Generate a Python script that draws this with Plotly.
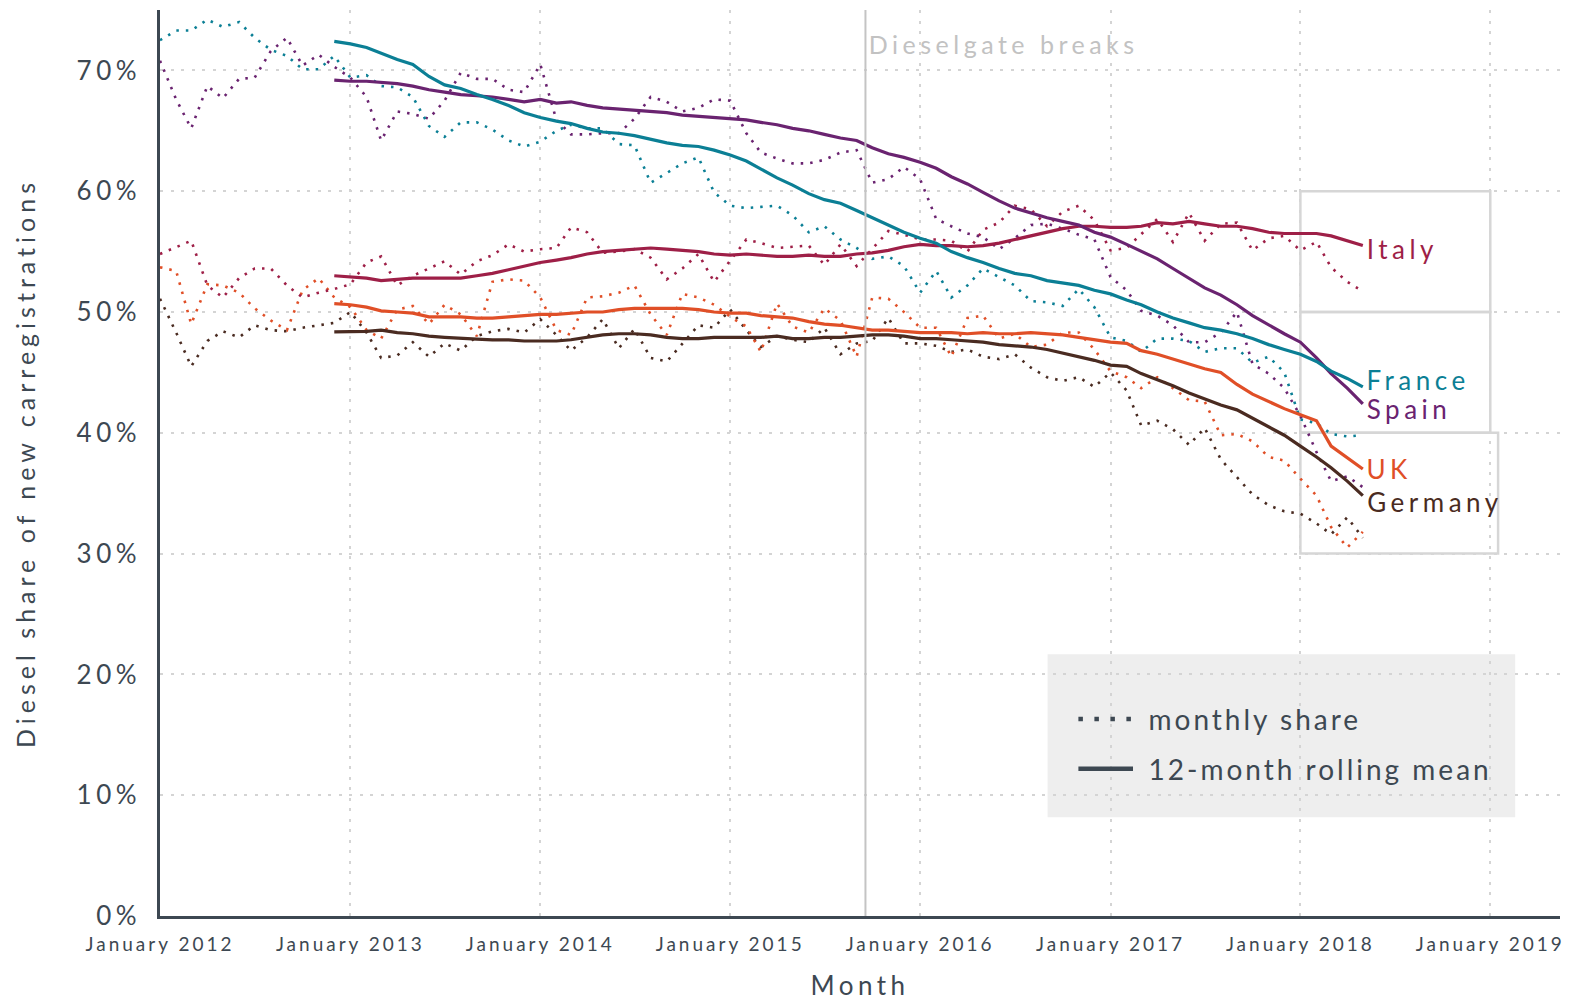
import pandas as pd
import plotly.graph_objects as go

# ---------------- data (percent) ----------------
months = pd.date_range("2012-01-01", periods=77, freq="MS")   # Jan 2012 .. May 2018
roll_months = months[11:]                                      # Dec 2012 .. May 2018

france_monthly = [72.5, 73.3, 73.3, 74.2, 73.6, 74.0, 72.7, 71.7, 71.2, 70.1, 70.1, 71.2, 69.4, 69.6, 68.7, 68.6,
                  67.8, 65.4, 64.5, 65.7, 65.7, 65.1, 64.2, 63.7, 64.1,
                  65.0, 65.5, 65.2, 65.2, 63.9, 63.8, 60.7, 61.5, 62.3, 62.8, 59.9, 58.8, 58.6, 58.7, 58.8, 58.0,
                  56.6, 57.1, 56.0, 55.3, 54.4, 54.6, 53.8, 51.6,
                  53.4, 51.2, 52.2, 53.6, 52.9, 52.2, 50.9, 50.8, 50.5, 51.9, 50.4, 47.9, 47.6, 46.7, 47.8, 47.8,
                  47.6, 46.7, 47.0, 47.0, 45.8, 46.3, 45.0, 41.1, 40.8, 39.9, 39.7, 39.8]
spain_monthly = [70.8, 67.6, 65.2, 68.7, 67.7, 69.3, 69.4, 71.6, 72.7, 70.4, 71.3, 70.3, 69.4, 67.8, 64.2, 66.6,
                 66.4, 66.0, 67.5, 69.8, 69.3, 69.3, 68.4, 68.2, 70.5,
                 65.9, 64.7, 64.7, 64.8, 64.8, 66.0, 67.8, 67.4, 66.6, 66.9, 67.6, 67.5, 64.8, 63.2, 62.7, 62.3,
                 62.3, 62.6, 63.2, 63.4, 60.7, 61.0, 62.0, 61.0,
                 57.7, 57.1, 56.5, 56.2, 55.2, 56.1, 57.2, 57.3, 56.9, 56.4, 56.0, 52.9, 51.8, 50.1, 49.7, 48.9,
                 47.5, 47.5, 48.3, 50.0, 45.7, 44.9, 43.7, 41.4, 38.4, 36.0, 36.4, 35.5]
italy_monthly = [54.8, 55.4, 55.9, 52.2, 51.2, 52.8, 53.6, 53.6, 52.2, 51.2, 51.6, 51.9, 52.3, 54.1, 54.6, 52.2,
                 53.0, 53.6, 54.2, 53.1, 54.2, 54.7, 55.6, 55.0, 55.2,
                 55.3, 57.0, 56.6, 54.9, 55.0, 55.2, 54.5, 52.7, 53.6, 54.8, 52.5, 54.3, 56.0, 55.7, 55.3, 55.4,
                 55.5, 53.9, 55.6, 53.8, 55.2, 56.7, 56.4, 56.0,
                 56.0, 55.9, 55.0, 56.8, 57.4, 58.8, 58.5, 57.1, 58.3, 58.8, 57.6, 55.1, 55.3, 56.4, 57.7, 55.8,
                 58.2, 55.9, 57.3, 57.4, 55.1, 56.1, 56.3, 55.1, 55.8, 53.7, 52.5, 51.7]
uk_monthly = [53.7, 53.4, 49.0, 52.3, 52.2, 51.6, 50.3, 49.3, 48.5, 51.8, 52.8, 51.2, 50.4, 48.5, 47.8, 50.2,
              50.5, 49.0, 50.6, 49.8, 48.0, 52.5, 52.7, 52.6, 51.2,
              48.5, 48.1, 51.2, 51.3, 51.6, 52.2, 49.8, 48.1, 51.5, 51.2, 50.6, 49.6, 48.8, 46.7, 50.7, 48.8,
              48.3, 50.3, 49.3, 46.3, 51.2, 51.1, 50.0, 48.7,
              48.7, 46.3, 49.5, 49.7, 47.8, 48.2, 47.1, 47.3, 48.3, 48.3, 46.9, 45.1, 44.6, 43.7, 44.6, 43.7,
              42.7, 42.6, 39.8, 39.9, 39.3, 38.0, 37.7, 36.2, 34.8, 32.2, 30.5, 31.8]
germany_monthly = [51.1, 48.3, 45.5, 47.6, 48.4, 47.9, 48.9, 48.5, 48.4, 48.7, 48.9, 49.1, 50.0, 48.3, 46.2, 46.4,
                   47.5, 46.3, 47.4, 46.8, 48.0, 48.4, 48.6, 48.3, 49.4,
                   48.1, 46.8, 47.9, 49.4, 47.0, 48.6, 46.2, 45.9, 47.4, 48.9, 48.7, 50.2, 48.5, 47.1, 48.0, 47.7,
                   47.5, 48.7, 46.5, 47.4, 47.6, 49.5, 47.4, 47.4,
                   47.2, 46.7, 46.9, 46.3, 46.1, 46.5, 45.4, 44.6, 44.3, 44.6, 43.8, 45.0, 43.5, 40.6, 41.0, 40.3,
                   39.0, 40.4, 37.8, 36.3, 34.9, 34.0, 33.5, 33.3, 32.5, 31.6, 33.0, 31.3]

france_rolling = [72.4, 72.2, 71.9, 71.4, 70.9, 70.5, 69.5, 68.8, 68.5, 68.0, 67.6, 67.1, 66.5, 66.1, 65.8,
                  65.6, 65.2, 64.9, 64.8, 64.6, 64.3, 64.0, 63.8, 63.7, 63.4, 63.0, 62.5, 61.8, 61.1, 60.5, 59.8,
                  59.3, 59.0, 58.4, 57.8, 57.2, 56.6, 56.1,
                  55.7, 55.0, 54.5, 54.1, 53.6, 53.2, 53.0, 52.6, 52.4, 52.2, 51.8, 51.5, 51.0, 50.6, 50.0, 49.5,
                  49.1, 48.7, 48.5, 48.2, 47.8, 47.3, 46.9, 46.5, 45.9, 45.1, 44.5, 43.8]
spain_rolling = [69.2, 69.1, 69.1, 69.0, 68.9, 68.7, 68.4, 68.2, 68.0, 67.9, 67.8, 67.6, 67.4, 67.6, 67.3,
                 67.4, 67.1, 66.9, 66.8, 66.7, 66.6, 66.5, 66.3, 66.2, 66.1, 66.0, 65.9, 65.7, 65.5, 65.2, 65.0,
                 64.7, 64.4, 64.2, 63.6, 63.1, 62.8, 62.4,
                 61.9, 61.2, 60.6, 59.9, 59.2, 58.6, 58.2, 57.8, 57.5, 57.2, 56.6, 56.2, 55.6, 55.0, 54.4, 53.6,
                 52.8, 52.0, 51.4, 50.6, 49.7, 48.9, 48.2, 47.5, 46.2, 44.9, 43.7, 42.4]
italy_rolling = [53.0, 52.9, 52.8, 52.6, 52.7, 52.8, 52.8, 52.8, 52.8, 53.0, 53.2, 53.5, 53.8, 54.1, 54.3,
                 54.5, 54.8, 55.0, 55.1, 55.2, 55.3, 55.2, 55.1, 55.0, 54.8, 54.7, 54.8, 54.7, 54.6, 54.6, 54.7,
                 54.6, 54.6, 54.8, 54.9, 55.1, 55.4, 55.6,
                 55.5, 55.5, 55.4, 55.5, 55.7, 56.0, 56.3, 56.6, 56.9, 57.1, 57.1, 57.0, 57.0, 57.1, 57.4, 57.3,
                 57.5, 57.3, 57.1, 57.1, 56.9, 56.6, 56.5, 56.5, 56.5, 56.3, 55.9, 55.5]
uk_rolling = [50.7, 50.6, 50.4, 50.1, 50.0, 49.9, 49.6, 49.6, 49.6, 49.5, 49.5, 49.6, 49.7, 49.8, 49.8,
              49.9, 50.0, 50.0, 50.2, 50.3, 50.3, 50.3, 50.3, 50.2, 50.0, 49.9, 49.9, 49.7, 49.6, 49.5, 49.2,
              49.0, 48.9, 48.7, 48.5, 48.5, 48.4, 48.3,
              48.3, 48.3, 48.2, 48.3, 48.2, 48.2, 48.3, 48.2, 48.1, 47.9, 47.7, 47.5, 47.4, 46.8, 46.5, 46.1,
              45.7, 45.3, 45.0, 44.0, 43.2, 42.6, 42.0, 41.5, 41.0, 38.9, 37.9, 37.0]
germany_rolling = [48.35, 48.35, 48.4, 48.5, 48.3, 48.2, 48.0, 47.9, 47.8, 47.75, 47.7, 47.7, 47.6, 47.6, 47.6,
                   47.7, 47.9, 48.1, 48.2, 48.2, 48.1, 47.9, 47.8, 47.8, 47.9, 47.9, 47.9, 47.9, 48.0, 47.8, 47.8,
                   47.9, 47.9, 48.0, 48.1, 48.1, 48.0, 47.8,
                   47.8, 47.7, 47.6, 47.5, 47.3, 47.2, 47.1, 46.9, 46.6, 46.3, 46.0, 45.6, 45.5, 44.9, 44.4, 43.9,
                   43.3, 42.8, 42.3, 41.9, 41.2, 40.5, 39.8, 38.9, 38.0, 37.1, 36.0, 34.8]

countries = ["Germany", "UK", "Italy", "Spain", "France"]
monthly = {"France": france_monthly, "Spain": spain_monthly, "Italy": italy_monthly,
           "UK": uk_monthly, "Germany": germany_monthly}
rolling = {"France": france_rolling, "Spain": spain_rolling, "Italy": italy_rolling,
           "UK": uk_rolling, "Germany": germany_rolling}
colors = {"France": "#0b7f95", "Spain": "#6a2370", "Italy": "#9e1f47",
          "UK": "#e04f27", "Germany": "#4a2b21"}
# small vertical nudges (px) that keep the end labels apart, as in the original
label_nudge = {"France": 7, "Spain": -5, "Italy": -3, "UK": 0, "Germany": -6}

year_ticks = pd.date_range("2012-01-01", "2019-01-01", freq="YS")
year_labels = ["January %d" % d.year for d in year_ticks]
y_ticks = [0, 10, 20, 30, 40, 50, 60, 70]
dieselgate_date = "2015-09-18"
legend_labels = ["monthly share", "12-month rolling mean"]

TEXT = "#3d4852"
FONT = "Lato"
ANN_SP = 4.5      # letter spacing (px) used for annotation texts
LEG_SP = 3.0      # letter spacing (px) used for legend texts

fig = go.Figure()

for c in countries:
    fig.add_trace(go.Scatter(
        x=months, y=monthly[c], mode="lines", name=c + " monthly share",
        line=dict(color=colors[c], width=2.6, dash="2.5px,7px"),
        showlegend=False))
for c in countries:
    fig.add_trace(go.Scatter(
        x=roll_months, y=rolling[c], mode="lines", name=c + " 12-month rolling mean",
        line=dict(color=colors[c], width=3.2),
        showlegend=False))

# country labels at the end of each rolling line (shift compensates css letter-spacing)
for c in countries:
    fig.add_annotation(x=roll_months[-1], y=rolling[c][-1], text=c, showarrow=False,
                       xanchor="left", yanchor="middle", xshift=2 + len(c) * ANN_SP / 2,
                       yshift=label_nudge[c],
                       font=dict(family=FONT, size=26, color=colors[c]))

# Dieselgate marker
dg_text = "Dieselgate breaks"
fig.add_shape(type="line", x0=dieselgate_date, x1=dieselgate_date, yref="paper", y0=0, y1=1,
              line=dict(color="#c4c4c4", width=2))
fig.add_annotation(x=dieselgate_date, y=0.962, yref="paper", text=dg_text,
                   showarrow=False, xanchor="left", yanchor="middle",
                   xshift=1 + len(dg_text) * ANN_SP / 2,
                   font=dict(family=FONT, size=25, color="#c2c2c2"))

# label boxes
label_boxes = [("2018-01-01", "2019-01-01", 50, 60),
               ("2018-01-01", "2019-01-01", 40, 50),
               ("2018-01-01", "2019-01-16", 30, 40)]
for x0, x1, y0, y1 in label_boxes:
    fig.add_shape(type="rect", x0=x0, x1=x1, y0=y0, y1=y1, layer="between",
                  line=dict(color="#d6d6d6", width=2.5), fillcolor="rgba(0,0,0,0)")

# legend panel: background, line-style keys and texts
fig.add_shape(type="rect", xref="paper", yref="paper", x0=0.634, x1=0.968, y0=0.109, y1=0.289,
              layer="between", line=dict(width=0), fillcolor="#eeeeee")
legend_rows_y = [0.2175, 0.1625]
legend_dash = ["4.5px,11.5px", "solid"]
for txt, yy, dash in zip(legend_labels, legend_rows_y, legend_dash):
    fig.add_shape(type="line", xref="paper", yref="paper", x0=0.656, x1=0.695, y0=yy, y1=yy,
                  layer="above", line=dict(color=TEXT, width=4.5, dash=dash))
    fig.add_annotation(x=0.7055, y=yy, xref="paper", yref="paper", text=txt, showarrow=False,
                       xanchor="left", yanchor="middle", xshift=len(txt) * LEG_SP / 2 - 1,
                       font=dict(family=FONT, size=28, color=TEXT))

fig.update_layout(
    width=1572, height=1001,
    margin=dict(l=160, r=12, t=10, b=85),
    paper_bgcolor="white", plot_bgcolor="white",
    font=dict(family=FONT, color=TEXT),
    showlegend=False,
    xaxis=dict(
        range=["2012-01-01", "2019-05-15"], automargin=False,
        tickvals=year_ticks, ticktext=year_labels,
        tickfont=dict(family=FONT, size=19, color=TEXT),
        ticks="outside", ticklen=9, tickcolor="rgba(0,0,0,0)",
        showgrid=True, gridcolor="#d4d4d4", gridwidth=2, griddash="3px,7.5px",
        showline=True, linecolor="#3d4852", linewidth=2.5,
        zeroline=False,
        title=dict(text="Month", font=dict(family=FONT, size=26, color=TEXT), standoff=24),
    ),
    yaxis=dict(
        range=[0, 75], automargin=False,
        tickvals=y_ticks, ticktext=["%d%%" % v for v in y_ticks],
        tickfont=dict(family=FONT, size=26, color=TEXT),
        ticks="outside", ticklen=11, tickcolor="rgba(0,0,0,0)",
        showgrid=True, gridcolor="#d4d4d4", gridwidth=2, griddash="3px,7.5px",
        showline=True, linecolor="#3d4852", linewidth=2.5,
        zeroline=False,
        title=dict(text="Diesel share of new carregistrations",
                   font=dict(family=FONT, size=25, color=TEXT), standoff=48),
    ),
)

css = (".xtick text{letter-spacing:3px}"
       ".ytick text{letter-spacing:4.5px}"
       "text.xtitle{letter-spacing:4.5px}"
       "text.ytitle{letter-spacing:5px}"
       ".annotation text.annotation-text{letter-spacing:%spx}" % ANN_SP)
post = ("var s=document.createElement('style');s.textContent='" + css +
        "';document.head.appendChild(s);document.body.style.margin='0';"
        "var a=document.querySelectorAll('.annotation text.annotation-text');"
        "a.forEach(function(t){var v=t.textContent;"
        "if(v==='" + legend_labels[0] + "'||v==='" + legend_labels[1] + "'){t.style.letterSpacing='" +
        str(LEG_SP) + "px';}});")

fig.write_html("out.html", post_script=post, config={"displayModeBar": False})
